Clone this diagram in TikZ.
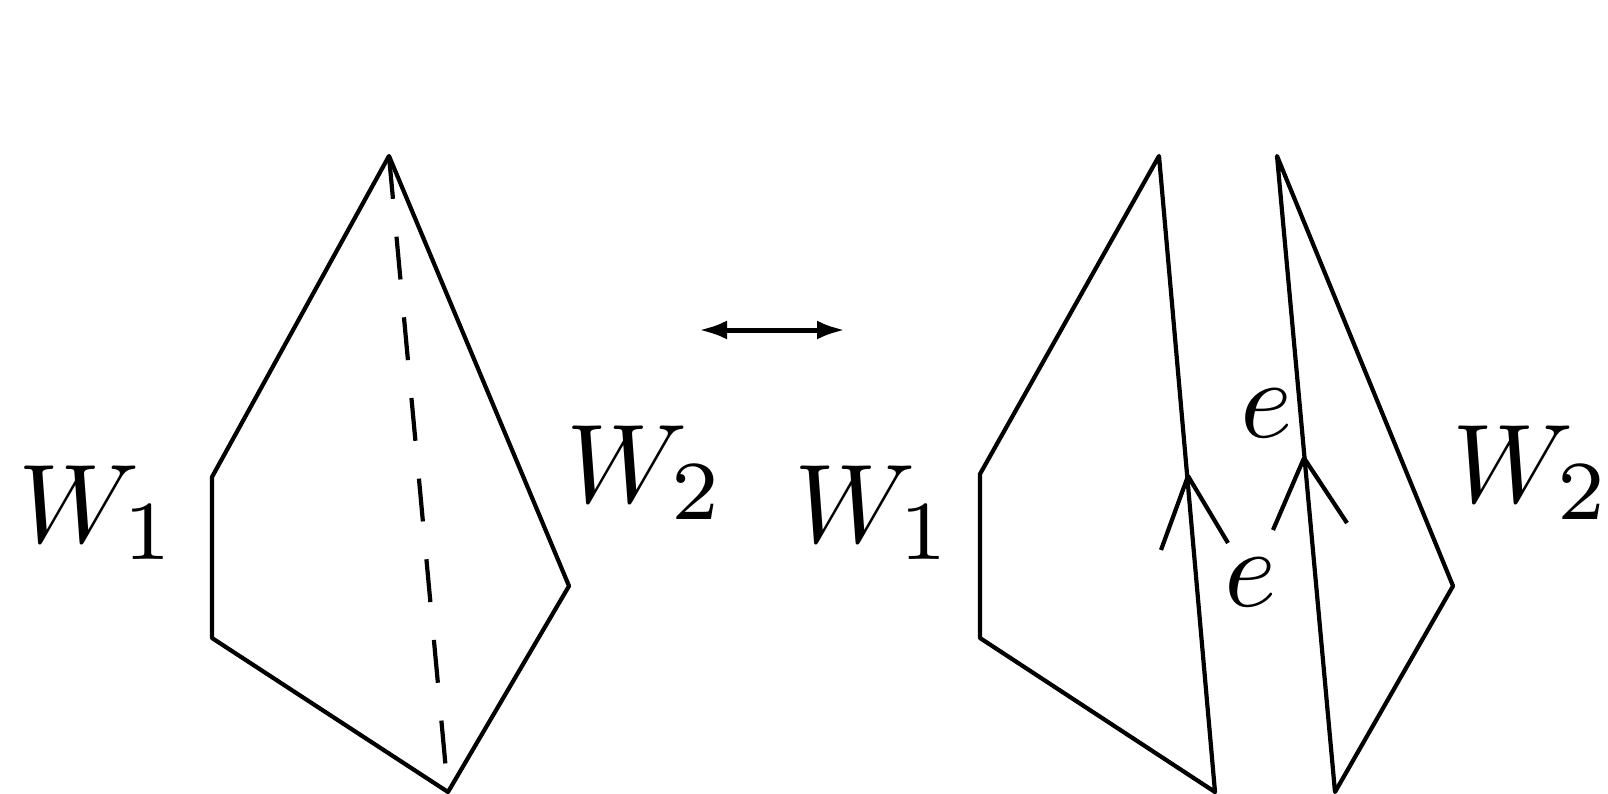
\documentclass[tikz,border=0pt]{standalone}
\usetikzlibrary{arrows.meta}
\DeclareFontFamily{OML}{cmm}{\skewchar\font127 }
\DeclareFontShape{OML}{cmm}{m}{it}{<->cmmi10}{}
\DeclareFontFamily{OT1}{cmr}{\hyphenchar\font45 }
\DeclareFontShape{OT1}{cmr}{m}{n}{<->cmr7}{}
\DeclareMathSizes{112}{112}{84}{64}
\newcommand{\wsub}[1]{$W\kern-15.6pt\raisebox{-17pt}{$\scriptstyle #1$}$}
\tikzset{
  edge/.style={line width=4.2pt,line join=round,black},
  lab/.style={inner sep=0pt,font=\fontsize{112}{112}\selectfont,anchor=base west},
  biarrow/.style={line width=5pt,{Latex[length=28pt,width=19pt]}-{Latex[length=28pt,width=19pt]}},
}
\begin{document}
\begin{tikzpicture}[x=1pt,y=-1pt]
\useasboundingbox (0,0) rectangle (1608,793);
% left
\coordinate (a) at (389,156);
\coordinate (b) at (212,477);
\coordinate (c) at (212,638);
\coordinate (d) at (448,792);
\coordinate (e) at (569,586);
\draw[edge] (a)--(b)--(c)--(d)--(e)--cycle;
\draw[edge,dash pattern=on 43pt off 38pt] (a)--(d);
\node[lab] (w1a) at (18,542) {\wsub{1}};
\node[lab] (w2a) at (566,502) {\wsub{2}};
% arrow
\coordinate (p) at (699,330);
\coordinate (q) at (845,330);
\draw[biarrow] (p)--(q);
% right
\coordinate (f) at (1159,156);
\coordinate (g) at (980,474);
\coordinate (h) at (980,638);
\coordinate (i) at (1215,792);
\draw[edge] (f)--(g)--(h)--(i)--cycle;
\coordinate (j) at (1277,156);
\coordinate (k) at (1453,586);
\coordinate (l) at (1335,792);
\draw[edge] (j)--(k)--(l)--cycle;
\coordinate (m) at (1188,476);
\coordinate (m1) at (1161,550);
\coordinate (m2) at (1228,543);
\draw[edge] (m1)--(m)--(m2);
\coordinate (n) at (1304,458);
\coordinate (n1) at (1273,530);
\coordinate (n2) at (1347,523);
\draw[edge] (n1)--(n)--(n2);
\node[lab] (w1b) at (794,542) {\wsub{1}};
\node[lab] (w2b) at (1452,502) {\wsub{2}};
\node[lab] (e1) at (1224,606) {$e$};
\node[lab] (e2) at (1240,437) {$e$};
\end{tikzpicture}
\end{document}
